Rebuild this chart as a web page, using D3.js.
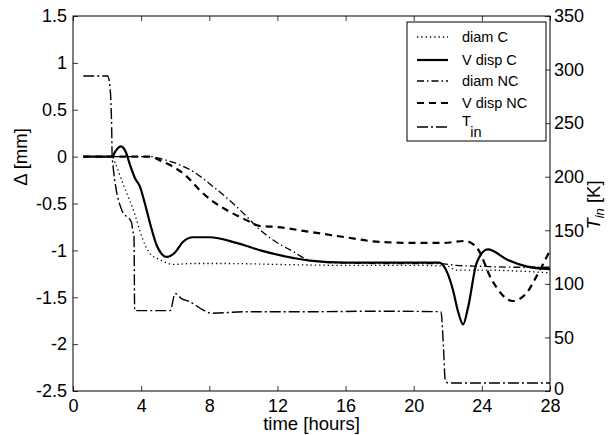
<!DOCTYPE html>
<html>
<head>
<meta charset="utf-8">
<script src="https://cdn.jsdelivr.net/npm/d3@7"></script>
<style>
  body { margin: 0; background: #fff; }
  svg text { font-family: "Liberation Sans", Arial, Helvetica, sans-serif; fill: #000; }
</style>
</head>
<body>
<div id="chart"></div>
<script>
// time in hours, displacements in mm, temperature in K
const diamCTime = [0.6, 2.3, 2.5, 3.0, 3.6, 4.05, 4.5, 5.1, 5.9, 7, 9, 12, 16, 20, 22, 22.5, 24, 26, 28];
const diamC = [0, 0, -0.08, -0.32, -0.6, -0.86, -1.03, -1.1, -1.15, -1.14, -1.14, -1.15, -1.16, -1.16, -1.17, -1.21, -1.21, -1.22, -1.24];

const vDispCTime = [0.6, 2.3, 2.5, 2.8, 3.1, 3.35, 3.64, 3.93, 4.22, 4.52, 4.9, 5.5, 6.0, 6.45, 7.05, 8.0, 9.6, 11, 12.9, 13.9, 16, 20, 21.5, 22.0, 22.3, 22.6, 22.9, 23.2, 23.7, 24.35, 25.5, 26.6, 28];
const vDispC = [0, 0, 0.06, 0.11, 0.05, -0.09, -0.23, -0.32, -0.5, -0.71, -0.94, -1.07, -1.02, -0.91, -0.86, -0.86, -0.92, -1.0, -1.08, -1.11, -1.13, -1.13, -1.13, -1.25, -1.42, -1.65, -1.79, -1.6, -1.13, -0.99, -1.1, -1.17, -1.2];

const diamNCTime = [0.6, 4.5, 5.1, 5.7, 7.06, 8.23, 9.4, 10.2, 10.97, 11.75, 12.9, 13.8, 15, 18, 21.5, 22.5, 24, 26, 28];
const diamNC = [0, 0, -0.02, -0.05, -0.16, -0.32, -0.5, -0.64, -0.78, -0.89, -1.01, -1.1, -1.13, -1.14, -1.14, -1.16, -1.17, -1.18, -1.18];

const vDispNCTime = [0.6, 4.5, 5.1, 5.7, 6.67, 7.45, 8.23, 9.02, 10.2, 10.97, 11.95, 13.8, 16, 18, 20, 21.7, 23, 23.7, 24.6, 25.8, 26.6, 27.2, 28];
const vDispNC = [0, 0, -0.04, -0.09, -0.21, -0.36, -0.48, -0.57, -0.68, -0.74, -0.75, -0.8, -0.86, -0.91, -0.92, -0.92, -0.9, -0.97, -1.32, -1.54, -1.46, -1.28, -1.0];

const tInTime = [0.6, 2.03, 2.17, 2.23, 2.27, 2.3, 2.86, 3.44, 3.5, 3.58, 3.62, 5.7, 6.0, 6.4, 6.75, 7.0, 7.6, 8.15, 10, 14, 18, 21.6, 21.75, 21.85, 22, 28];
const tIn = [294, 294, 284, 268, 246, 218, 169, 157, 150, 145, 75, 75, 91, 86, 84, 82, 76, 72.5, 74, 74, 74.5, 74, 40, 10, 7.5, 7.5];

const xTicks = [0, 4, 8, 12, 16, 20, 24, 28];
const yLeftTicks = [1.5, 1, 0.5, 0, -0.5, -1, -1.5, -2, -2.5];
const yRightTicks = [0, 50, 100, 150, 200, 250, 300, 350];

const W = 609, H = 435;
const plotLeft = 73, plotRight = 550, plotTop = 16, plotBottom = 391;

const svg = d3.select("#chart").append("svg")
  .attr("width", W).attr("height", H);

const x = d3.scaleLinear().domain([0, 28]).range([plotLeft, plotRight]);
const yL = d3.scaleLinear().domain([-2.5, 1.5]).range([plotBottom, plotTop]);
const yR = d3.scaleLinear().domain([0, 350]).range([plotBottom, plotTop]);

// axes with inward ticks, MATLAB style
const tickLen = 5;
const fontSize = 18;

svg.append("g").attr("transform", `translate(0,${plotBottom})`)
  .call(d3.axisBottom(x).tickValues(xTicks).tickSize(-tickLen).tickPadding(8).tickFormat(d3.format("d")))
  .call(g => g.select(".domain").remove());
svg.append("g").attr("transform", `translate(0,${plotTop})`)
  .call(d3.axisTop(x).tickValues(xTicks).tickSize(-tickLen).tickFormat(""))
  .call(g => g.select(".domain").remove());
svg.append("g").attr("transform", `translate(${plotLeft},0)`)
  .call(d3.axisLeft(yL).tickValues(yLeftTicks).tickSize(-tickLen).tickPadding(6).tickFormat(d => String(d)))
  .call(g => g.select(".domain").remove());
svg.append("g").attr("transform", `translate(${plotRight},0)`)
  .call(d3.axisRight(yR).tickValues(yRightTicks).tickSize(-tickLen).tickPadding(4).tickFormat(d3.format("d")))
  .call(g => g.select(".domain").remove())
  .call(g => g.selectAll(".tick text").filter(d => d === 0).attr("dy", "0.2em"));

svg.selectAll(".tick text").attr("font-size", fontSize).attr("font-family", null);
svg.selectAll(".tick line").attr("stroke", "#000").attr("stroke-width", 0.8);

// box
svg.append("rect")
  .attr("x", plotLeft).attr("y", plotTop)
  .attr("width", plotRight - plotLeft).attr("height", plotBottom - plotTop)
  .attr("fill", "none").attr("stroke", "#000").attr("stroke-width", 1);

// series
const series = [
  { name: "diam C", t: diamCTime, v: diamC, y: yL, width: 1.3, dash: "1.3,3" },
  { name: "V disp C", t: vDispCTime, v: vDispC, y: yL, width: 2.2, dash: null },
  { name: "diam NC", t: diamNCTime, v: diamNC, y: yL, width: 1.3, dash: "7,3,1.5,3" },
  { name: "V disp NC", t: vDispNCTime, v: vDispNC, y: yL, width: 2.2, dash: "7,5" },
  { name: "T_in", t: tInTime, v: tIn, y: yR, width: 1.4, dash: "11,3,2,3" },
];

const plot = svg.append("g");
series.forEach(s => {
  const pts = s.t.map((t, i) => [t, s.v[i]]);
  const line = d3.line()
    .x(d => x(d[0]))
    .y(d => s.y(d[1]))
    .curve(d3.curveMonotoneX);
  plot.append("path")
    .attr("d", line(pts))
    .attr("fill", "none")
    .attr("stroke", "#000")
    .attr("stroke-width", s.width)
    .attr("stroke-dasharray", s.dash);
});

// axis labels
svg.append("text")
  .attr("x", (plotLeft + plotRight) / 2).attr("y", 430)
  .attr("text-anchor", "middle").attr("font-size", 18.5)
  .text("time [hours]");

svg.append("text")
  .attr("transform", "translate(27,157) rotate(-90)")
  .attr("text-anchor", "middle").attr("font-size", 18.5)
  .text("\u0394 [mm]");

const rl = svg.append("text")
  .attr("transform", "translate(600,205) rotate(-90)")
  .attr("text-anchor", "middle").attr("font-size", 18.5);
rl.append("tspan").attr("font-style", "italic").text("T");
rl.append("tspan").attr("font-style", "italic").attr("font-size", 13).attr("dy", 4).text("in");
rl.append("tspan").attr("dy", -4).text(" [K]");

// legend
const lg = svg.append("g").attr("transform", "translate(407,22)");
lg.append("rect")
  .attr("width", 139).attr("height", 119)
  .attr("fill", "#fff").attr("stroke", "#000").attr("stroke-width", 1);
const rowY = [15, 38, 59, 81, 105];
series.forEach((s, i) => {
  lg.append("line")
    .attr("x1", 10).attr("x2", 41)
    .attr("y1", rowY[i]).attr("y2", rowY[i])
    .attr("stroke", "#000")
    .attr("stroke-width", s.width)
    .attr("stroke-dasharray", s.dash);
  if (s.name === "T_in") {
    const t = lg.append("text").attr("x", 55).attr("y", rowY[i] - 1).attr("font-size", 14.5);
    t.append("tspan").text("T");
    t.append("tspan").attr("dy", 11).text("in");
  } else {
    lg.append("text")
      .attr("x", 55).attr("y", rowY[i] + 5)
      .attr("font-size", 14.5)
      .text(s.name);
  }
});
</script>
</body>
</html>
